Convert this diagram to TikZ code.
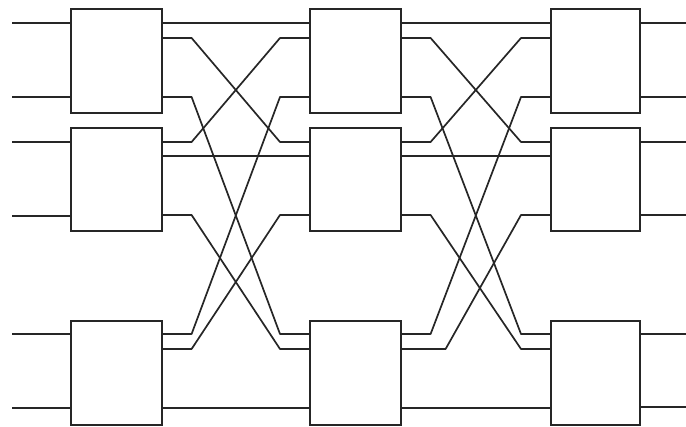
\documentclass[tikz,border=0pt]{standalone}
\usetikzlibrary{calc}
\tikzset{
  box/.style={draw=black!85, line width=1.6pt, inner sep=0pt, anchor=north west, minimum height=104pt},
  wire/.style={draw=black!85, line width=1.7pt, line join=round},
}
\newcommand\mywire[5][29]{\draw[wire] (#2.east |- #3) -- ++(#1,0) -- ($(#4.west |- #5)+(-29,0)$) -- (#4.west |- #5);}
\begin{document}
\begin{tikzpicture}[x=1pt,y=-1pt]
\useasboundingbox (0,0) rectangle (686,427);
% levels
\coordinate (a1) at (0,23);  \coordinate (a2) at (0,38);  \coordinate (a3) at (0,97);
\coordinate (b1) at (0,142); \coordinate (b2) at (0,156); \coordinate (b3) at (0,215);
\coordinate (c1) at (0,334); \coordinate (c2) at (0,349); \coordinate (c3) at (0,408);
% boxes
\node[box, minimum width=91pt] (b11) at (70,8) {};
\node[box, minimum width=91pt, minimum height=103pt] (b12) at (70,127) {};
\node[box, minimum width=91pt] (b13) at (70,320) {};
\node[box, minimum width=91pt] (b21) at (309,8) {};
\node[box, minimum width=91pt, minimum height=103pt] (b22) at (309,127) {};
\node[box, minimum width=91pt] (b23) at (309,320) {};
\node[box, minimum width=89pt] (b31) at (550,8) {};
\node[box, minimum width=89pt, minimum height=103pt] (b32) at (550,127) {};
\node[box, minimum width=89pt] (b33) at (550,320) {};
% inputs
\coordinate (i1) at (12,23);  \coordinate (i2) at (12,97);
\coordinate (i3) at (12,142); \coordinate (i4) at (12,216);
\coordinate (i5) at (12,334); \coordinate (i6) at (12,408);
\draw[wire] (i1) -- (b11.west |- i1);
\draw[wire] (i2) -- (b11.west |- i2);
\draw[wire] (i3) -- (b12.west |- i3);
\draw[wire] (i4) -- (b12.west |- i4);
\draw[wire] (i5) -- (b13.west |- i5);
\draw[wire] (i6) -- (b13.west |- i6);
% outputs
\coordinate (o1) at (686,23);  \coordinate (o2) at (686,97);
\coordinate (o3) at (686,142); \coordinate (o4) at (686,215);
\coordinate (o5) at (686,334); \coordinate (o6) at (686,407);
\draw[wire] (b31.east |- o1) -- (o1);
\draw[wire] (b31.east |- o2) -- (o2);
\draw[wire] (b32.east |- o3) -- (o3);
\draw[wire] (b32.east |- o4) -- (o4);
\draw[wire] (b33.east |- o5) -- (o5);
\draw[wire] (b33.east |- o6) -- (o6);
% stage 1 -> 2
\draw[wire] (b11.east |- a1) -- (b21.west |- a1);
\draw[wire] (b12.east |- b2) -- (b22.west |- b2);
\draw[wire] (b13.east |- c3) -- (b23.west |- c3);
\mywire{b11}{a2}{b22}{b1}
\mywire{b12}{b1}{b21}{a2}
\mywire{b11}{a3}{b23}{c1}
\mywire{b13}{c1}{b21}{a3}
\mywire{b12}{b3}{b23}{c2}
\mywire{b13}{c2}{b22}{b3}
% stage 2 -> 3
\draw[wire] (b21.east |- a1) -- (b31.west |- a1);
\draw[wire] (b22.east |- b2) -- (b32.west |- b2);
\draw[wire] (b23.east |- c3) -- (b33.west |- c3);
\mywire{b21}{a2}{b32}{b1}
\mywire{b22}{b1}{b31}{a2}
\mywire{b21}{a3}{b33}{c1}
\mywire{b23}{c1}{b31}{a3}
\mywire{b22}{b3}{b33}{c2}
\mywire[44]{b23}{c2}{b32}{b3}
\end{tikzpicture}
\end{document}
